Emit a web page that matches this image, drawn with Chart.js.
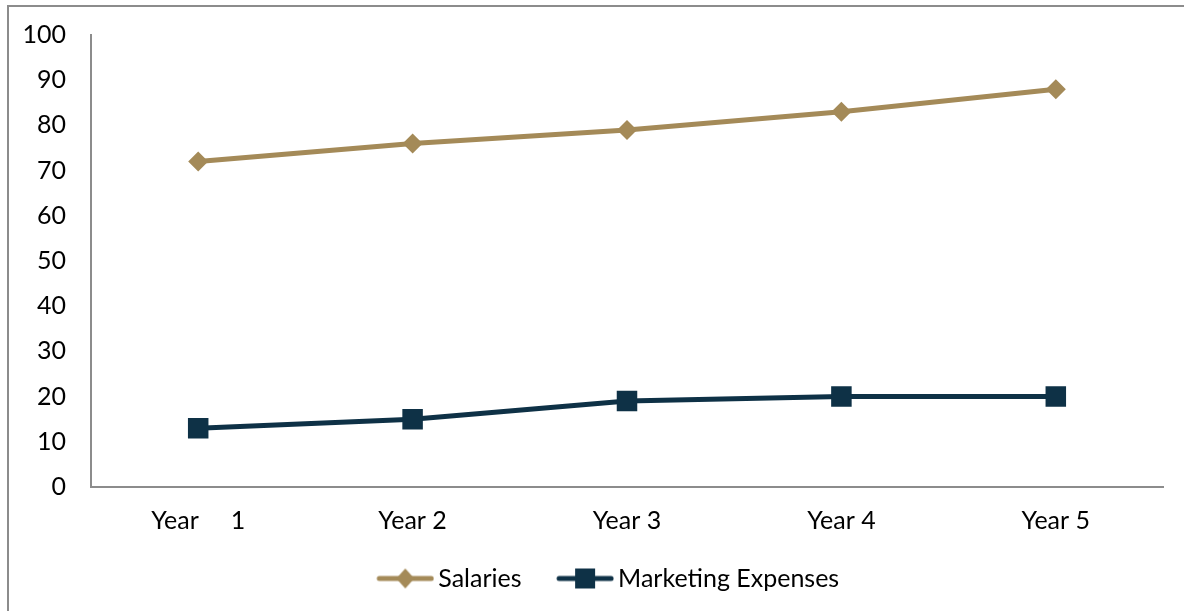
<!DOCTYPE html>
<html>
<head>
<meta charset="utf-8">
<script src="https://cdn.jsdelivr.net/npm/chart.js@4/dist/chart.umd.min.js"></script>
<style>
    html, body { margin: 0; padding: 0; background: #fff; }
    #wrap { position: relative; width: 1184px; height: 611px; overflow: hidden; }
    #frame { position: absolute; left: 7px; top: 5px; width: 1200px; height: 700px; border: 2px solid #8c8c8c; box-sizing: border-box; }
    #chartBox { position: absolute; left: 0; top: 0; width: 1184px; height: 611px; }
</style>
</head>
<body>
<div id="wrap">
    <div id="frame"></div>
    <div id="chartBox"><canvas id="costChart" width="1184" height="611"></canvas></div>
</div>
<script>
// Chart data
const years = ['Year     1', 'Year 2', 'Year 3', 'Year 4', 'Year 5'];
const salaries = [72, 76, 79, 83, 88];
const marketingExpenses = [13, 15, 19, 20, 20];
const yTicks = [0, 10, 20, 30, 40, 50, 60, 70, 80, 90, 100];

const tan = '#a48a58';
const navy = '#0e3146';
const fontFamily = 'Lato, "Open Sans", sans-serif';

// Build a small "line + marker" swatch for the legend
// (blank strip on the left so the swatch sits close to its text)
function legendSwatch(color, shape) {
    const c = document.createElement('canvas');
    c.width = 75;
    c.height = 24;
    const ctx = c.getContext('2d');
    ctx.translate(17, 0);
    ctx.strokeStyle = color;
    ctx.lineWidth = 5;
    ctx.lineCap = 'round';
    ctx.beginPath();
    ctx.moveTo(3, 12);
    ctx.lineTo(55, 12);
    ctx.stroke();
    ctx.fillStyle = color;
    ctx.beginPath();
    if (shape === 'diamond') {
        ctx.moveTo(29, 2);
        ctx.lineTo(38, 12);
        ctx.lineTo(29, 22);
        ctx.lineTo(20, 12);
    } else {
        ctx.rect(19, 2, 20, 20);
    }
    ctx.closePath();
    ctx.fill();
    return c;
}

const swatches = [legendSwatch(tan, 'diamond'), legendSwatch(navy, 'square')];

// Nudge the legend a little to the right, like the original
const legendShift = {
    id: 'legendShift',
    afterLayout(chart) {
        chart.legend.left += 22;
        chart.legend.right += 22;
    },
};

const ctx = document.getElementById('costChart').getContext('2d');
new Chart(ctx, {
    type: 'line',
    data: {
        labels: years,
        datasets: [
            {
                label: 'Salaries',
                data: salaries,
                borderColor: tan,
                backgroundColor: tan,
                borderWidth: 5,
                pointStyle: 'rectRot',
                pointRadius: 10,
                pointBorderWidth: 0,
                tension: 0,
            },
            {
                label: 'Marketing Expenses',
                data: marketingExpenses,
                borderColor: navy,
                backgroundColor: navy,
                borderWidth: 5,
                pointStyle: 'rect',
                pointRadius: 14.5,
                pointBorderWidth: 0,
                tension: 0,
            },
        ],
    },
    options: {
        responsive: false,
        animation: false,
        layout: { padding: { left: 0, right: 21, top: 35, bottom: 10 } },
        scales: {
            x: {
                offset: true,
                grid: { display: false, drawTicks: false },
                border: { display: true, color: '#8c8c8c', width: 2 },
                ticks: { color: '#000', font: { family: fontFamily, size: 25 }, padding: 19, maxRotation: 0 },
                afterFit: function (scale) {
                    scale.height = 53;
                    scale.paddingLeft = 0;
                    scale.paddingRight = 0;
                },
            },
            y: {
                min: 0,
                max: 100,
                grid: { display: false, drawTicks: false },
                border: { display: true, color: '#8c8c8c', width: 2 },
                afterBuildTicks: function (scale) { scale.ticks = yTicks.map(v => ({ value: v })); },
                ticks: { color: '#000', font: { family: fontFamily, size: 25 }, padding: 25 },
                afterFit: function (scale) {
                    scale.width = 91;
                    // keep the plot top/bottom where the layout padding puts it
                    scale.paddingTop = 0;
                    scale.paddingBottom = 0;
                },
            },
        },
        plugins: {
            legend: {
                position: 'bottom',
                labels: {
                    color: '#000',
                    font: { family: fontFamily, size: 25 },
                    usePointStyle: true,
                    pointStyleWidth: 58,
                    padding: 26,
                    generateLabels: function (chart) {
                        return chart.data.datasets.map((ds, i) => ({
                            text: ds.label,
                            fillStyle: ds.backgroundColor,
                            strokeStyle: ds.borderColor,
                            lineWidth: 0,
                            pointStyle: swatches[i],
                            datasetIndex: i,
                        }));
                    },
                },
            },
            tooltip: { enabled: false },
        },
    },
    plugins: [legendShift],
});
</script>
</body>
</html>
